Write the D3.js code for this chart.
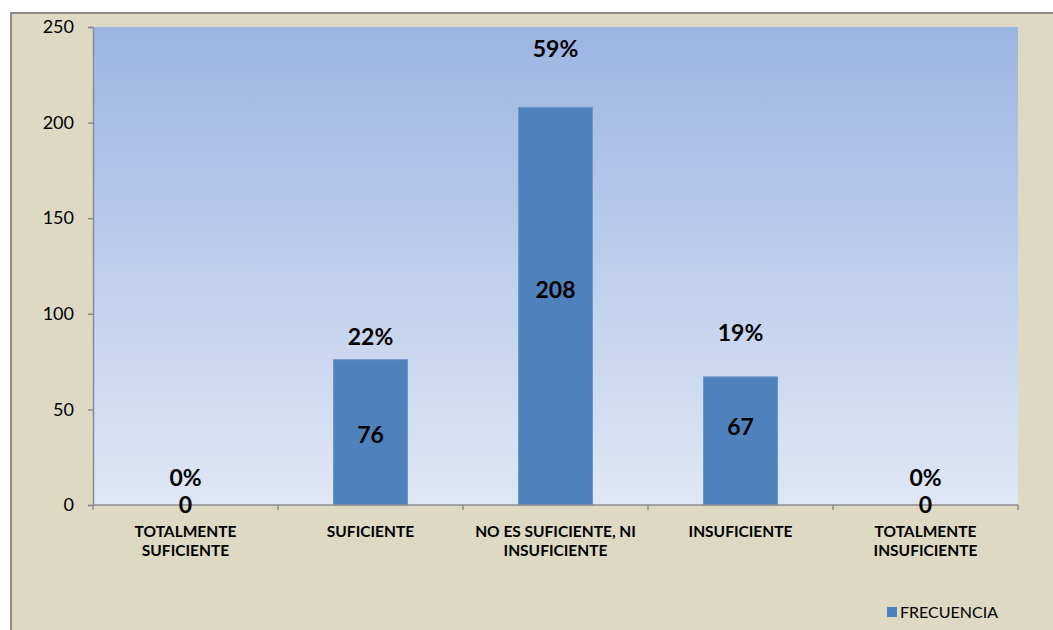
<!DOCTYPE html>
<html>
<head>
<meta charset="utf-8">
<script src="https://cdn.jsdelivr.net/npm/d3@7"></script>
<style>
  html, body { margin: 0; padding: 0; background: #ffffff; }
  svg { display: block; font-family: Lato, "Open Sans", sans-serif; }
</style>
</head>
<body>
<svg id="chart" width="1053" height="630"></svg>
<script>
// Survey answers and how many respondents chose each one
const categories = [
  ["TOTALMENTE", "SUFICIENTE"],
  ["SUFICIENTE"],
  ["NO ES SUFICIENTE, NI", "INSUFICIENTE"],
  ["INSUFICIENTE"],
  ["TOTALMENTE", "INSUFICIENTE"]
];
const frecuencia = [0, 76, 208, 67, 0];
const percentages = ["0%", "22%", "59%", "19%", "0%"];
const yTicks = [0, 50, 100, 150, 200, 250];
const seriesName = "FRECUENCIA";

// Label placement tweaks (pixels), one per bar
const pctLift = [27, 23, 59, 44, 27];
const valueShift = [0, 2, -16, -14, 0];

const svg = d3.select("#chart");
const W = 1053, H = 630;
const plot = { left: 93, top: 27, right: 1018, bottom: 505 };

// Outer chart frame
svg.append("rect")
  .attr("x", 11).attr("y", 13)
  .attr("width", W + 10).attr("height", H + 10)
  .attr("fill", "#ddd9c3")
  .attr("stroke", "#8c8c8c").attr("stroke-width", 2);

// Plot area gradient
const defs = svg.append("defs");
const grad = defs.append("linearGradient")
  .attr("id", "plotBg").attr("x1", 0).attr("y1", 0).attr("x2", 0).attr("y2", 1);
grad.append("stop").attr("offset", "0%").attr("stop-color", "#9bb5e3");
grad.append("stop").attr("offset", "100%").attr("stop-color", "#e0e7f5");

svg.append("rect")
  .attr("x", plot.left).attr("y", plot.top)
  .attr("width", plot.right - plot.left).attr("height", plot.bottom - plot.top)
  .attr("fill", "url(#plotBg)");

const x = d3.scaleBand()
  .domain(d3.range(categories.length))
  .range([plot.left, plot.right])
  .paddingInner(0.6).paddingOuter(0.3);

const band = d3.scaleBand()
  .domain(d3.range(categories.length))
  .range([plot.left, plot.right]);

const y = d3.scaleLinear().domain([0, 250]).range([plot.bottom, plot.top]);

// Bars
svg.append("g").selectAll("rect")
  .data(frecuencia)
  .join("rect")
  .attr("x", (d, i) => x(i))
  .attr("y", d => y(d))
  .attr("width", x.bandwidth())
  .attr("height", d => y(0) - y(d))
  .attr("fill", "#4f81bd")
  .attr("stroke", "#6f95c8").attr("stroke-width", 1);

// Y axis
const yAxis = svg.append("g")
  .attr("transform", `translate(${plot.left},0)`)
  .call(d3.axisLeft(y).tickValues(yTicks).tickSize(5).tickPadding(14));
yAxis.select(".domain").attr("stroke", "#8c8c8c").attr("stroke-width", 1.5);
yAxis.selectAll(".tick line").attr("stroke", "#8c8c8c").attr("stroke-width", 1.5);
yAxis.selectAll(".tick text")
  .attr("font-size", 18).attr("fill", "#000")
  .style("font-family", "Lato, 'Open Sans', sans-serif");

// X axis with ticks at category boundaries
const bounds = d3.range(categories.length + 1).map(i => i === categories.length ? plot.right : band(i));
const xAxis = svg.append("g");
xAxis.append("line")
  .attr("x1", plot.left).attr("x2", plot.right)
  .attr("y1", plot.bottom).attr("y2", plot.bottom)
  .attr("stroke", "#8c8c8c").attr("stroke-width", 1.5);
xAxis.selectAll("line.tick")
  .data(bounds)
  .join("line").attr("class", "tick")
  .attr("x1", d => d).attr("x2", d => d)
  .attr("y1", plot.bottom).attr("y2", plot.bottom + 5)
  .attr("stroke", "#8c8c8c").attr("stroke-width", 1.5);

// Category labels
const catG = svg.append("g");
categories.forEach((lines, i) => {
  const t = catG.append("text")
    .attr("x", band(i) + band.bandwidth() / 2)
    .attr("y", 537)
    .attr("text-anchor", "middle")
    .attr("font-size", 15.5).attr("font-weight", "bold").attr("fill", "#000");
  lines.forEach((ln, k) => {
    t.append("tspan")
      .attr("x", band(i) + band.bandwidth() / 2)
      .attr("dy", k === 0 ? 0 : 19)
      .text(ln);
  });
});

// Value labels
svg.append("g").selectAll("text")
  .data(frecuencia)
  .join("text")
  .attr("x", (d, i) => x(i) + x.bandwidth() / 2)
  .attr("y", (d, i) => d === 0 ? y(0) : (y(d) + y(0)) / 2 + valueShift[i])
  .attr("dy", "0.36em")
  .attr("text-anchor", "middle")
  .attr("font-size", 23).attr("font-weight", "bold").attr("fill", "#000")
  .text(d => d);

// Percentage labels
svg.append("g").selectAll("text")
  .data(frecuencia)
  .join("text")
  .attr("x", (d, i) => x(i) + x.bandwidth() / 2)
  .attr("y", (d, i) => y(d) - pctLift[i])
  .attr("dy", "0.36em")
  .attr("text-anchor", "middle")
  .attr("font-size", 23).attr("font-weight", "bold").attr("fill", "#000")
  .text((d, i) => percentages[i]);

// Legend
const lg = svg.append("g").attr("transform", "translate(887,607)");
lg.append("rect").attr("width", 10).attr("height", 10).attr("fill", "#4f81bd");
lg.append("text")
  .attr("x", 13).attr("y", 5).attr("dy", "0.36em")
  .attr("font-size", 16).attr("fill", "#000")
  .text(seriesName);
</script>
</body>
</html>
